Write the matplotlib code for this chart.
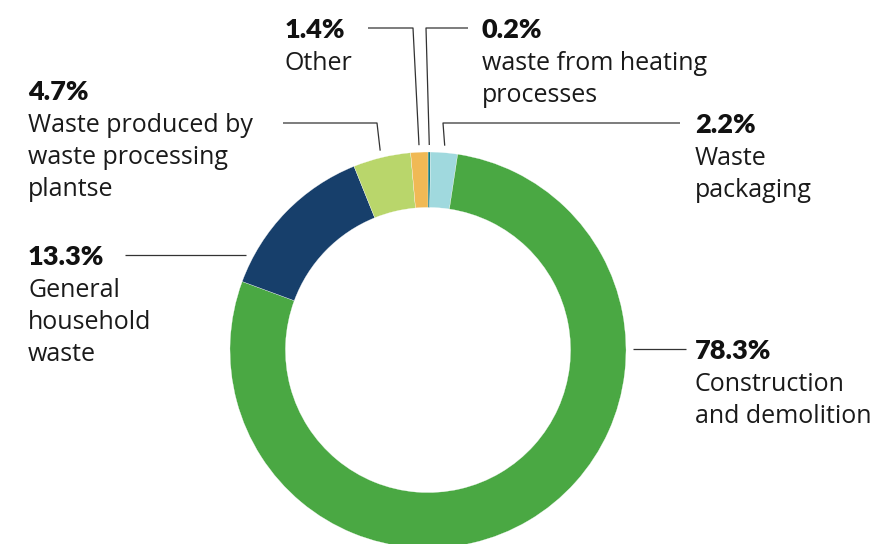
import matplotlib.pyplot as plt
import numpy as np

plt.rcParams['font.family'] = ['Open Sans', 'Lato', 'DejaVu Sans']

# data, clockwise from the top
pcts = [0.2, 2.2, 78.3, 13.3, 4.7, 1.4]
names = ["waste from heating\nprocesses", "Waste\npackaging", "Construction\nand demolition",
         "General\nhousehold\nwaste", "Waste produced by\nwaste processing\nplantse", "Other"]
colors = ["#137a80", "#a0d9de", "#4aa843", "#173f6b", "#b9d66b", "#f0b955"]

W, H = 881, 544
cx, cy, R = 428, 350, 198

# label layout in pixels: text_x, text_y (bold line), line_y, elbow_x (None = straight), end_x
layout = [
    (482, 28, 28, 426, 468),
    (695, 123, 123, 443, 680),
    (695, 349, 349, None, 686),
    (28, 255, 255, None, 125),
    (28, 90, 123, 377, 283),
    (285, 28, 28, 413, 368),
]

fig = plt.figure(figsize=(W / 100, H / 100), dpi=100)
ax = fig.add_axes([0, 0, 1, 1])

def py(y):
    return H - y

wedges, _ = ax.pie(pcts, colors=colors, startangle=90, counterclock=False,
                   center=(cx, py(cy)), radius=R,
                   wedgeprops=dict(width=R * 0.28, edgecolor='white', linewidth=0.2))
ax.set_xlim(0, W)
ax.set_ylim(0, H)
ax.set_aspect('equal')
ax.axis('off')

r_anchor = R + 7
for w, p, name, (tx, ty, ly, ex, endx) in zip(wedges, pcts, names, layout):
    if ex is None:
        dy = ly - cy
        dx = np.sqrt(r_anchor ** 2 - dy ** 2)
        sx = cx + dx if endx > cx else cx - dx
        xs, ys = [sx, endx], [ly, ly]
    else:
        ang = np.deg2rad((w.theta1 + w.theta2) / 2)
        ax_ = cx + r_anchor * np.cos(ang)
        ay_ = cy - r_anchor * np.sin(ang)
        xs, ys = [ax_, ex, endx], [ay_, ly, ly]
    ax.plot(xs, [py(v) for v in ys], color='#333333', lw=0.9, solid_capstyle='butt')

    ax.text(tx, py(ty + 10), f"{p}%", fontsize=19.5, fontweight='heavy',
            family=['Lato', 'DejaVu Sans'], color='#111111', ha='left', va='baseline')
    for i, line in enumerate(name.split("\n")):
        ax.text(tx, py(ty + 10 + 32 * (i + 1)), line, fontsize=18,
                color='#1a1a1a', ha='left', va='baseline')

fig.savefig("out.png", dpi=100)
